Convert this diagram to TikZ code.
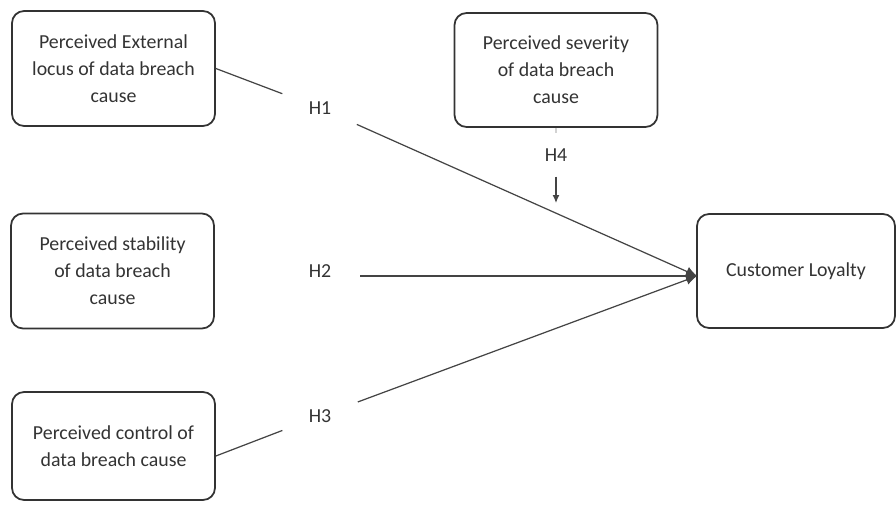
\documentclass[tikz,border=0pt]{standalone}
\usepackage{fontspec}
\setmainfont{Carlito}
\usetikzlibrary{arrows.meta}
\definecolor{ink}{HTML}{333333}
\definecolor{wire}{HTML}{444444}

\tikzset{
  factor/.style={draw=ink, line width=1pt, rounded corners=0.24cm,
    minimum width=4.06cm, minimum height=2.3cm, align=center, text=ink,
    font=\fontsize{11.3}{15.4}\selectfont},
  hyp/.style={circle, minimum size=1.6cm, inner sep=0pt, text=ink,
    font=\fontsize{11.3}{15.4}\selectfont},
  link/.style={draw=wire, line width=0.7pt},
  effect/.style={link, -{Latex[length=0.22cm,width=0.2cm]}}
}

\begin{document}
\begin{tikzpicture}[x=0.02cm, y=-0.02cm]
\useasboundingbox (0,0) rectangle (896,504);

% predictors
\node [factor] (locus) at (113.5,68.5) {Perceived External\\locus of data breach\\cause};
\node [factor] (stab) at (112.5,271) {Perceived stability\\of data breach\\cause};
\node [factor, minimum height=2.16cm] (ctrl) at (113.5,446) {Perceived control of\\data breach cause};

% moderator and outcome
\node [factor, minimum height=2.28cm] (sever) at (556,70) {Perceived severity\\of data breach\\cause};
\node [factor, minimum width=3.96cm, minimum height=2.28cm] (loyal) at (796,271) {Customer Loyalty};

% hypotheses
\node [hyp] (h1) at (320,108) {H1};
\node [hyp] (h2) at (320,271) {H2};
\node [hyp] (h3) at (320,416) {H3};
\node [hyp, rectangle, minimum size=0pt, inner sep=0.3cm] (h4) at (556,155) {H4};

\coordinate (tip) at (697,276);
\coordinate (h4end) at (556,203);

\draw [link] (locus.east) -- (h1);
\draw [effect] (h1) -- (tip);
\draw [effect] (h2.east |- tip) -- (tip);
\draw [link] ([yshift=-0.2cm]ctrl.east) -- (h3);
\draw [effect] (h3) -- (tip);

\draw [link, draw=gray!35] (sever.south) -- (h4.north);
\draw [link, -{Latex[length=0.16cm,width=0.14cm]}] (h4.south) -- (h4end);
\end{tikzpicture}
\end{document}
